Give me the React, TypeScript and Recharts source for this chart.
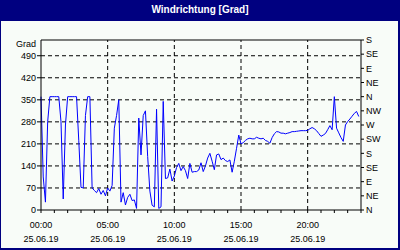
import { Line, LineChart, ReferenceLine, XAxis, YAxis } from "recharts";

// wind direction in degrees, one reading every 10 minutes from 00:00
const direction = [
  360, 105, 25, 280, 360, 360, 360, 360, 360, 280, 35, 270, 360, 360, 360, 360,
  360, 220, 72, 70, 300, 360, 360, 70, 62, 55, 68, 50, 62, 45, 70, 60,
  78, 260, 300, 350, 25, 55, 16, 40, 50, 30, 32, 5, 292, 175, 300, 315,
  170, 60, 15, 10, 320, 5, 10, 345, 100, 102, 130, 92, 108, 135, 148, 125,
  138, 125, 100, 148, 120, 122, 122, 127, 150, 122, 140, 165, 180, 155, 128, 175,
  178, 160, 165, 157, 154, 159, 120, 155, 196, 238, 210, 214, 221, 226, 228, 226,
  226, 231, 228, 226, 228, 221, 218, 212, 230, 242, 249, 248, 244, 244, 242, 244,
  246, 249, 249, 250, 251, 252, 252, 252, 253, 258, 262, 258, 252, 243, 234, 238,
  243, 255, 268, 255, 360, 260, 245, 230, 218, 270, 281, 289, 298, 307, 313, 297,
];

const hourTicks = Array.from({ length: 25 }, (_, i) => i);
const labelHours = [0, 5, 10, 15, 20];
const gridHours = [5, 10, 15, 20];
const dateLabel = "25.06.19";
const gradTicks = [0, 70, 140, 210, 280, 350, 420, 490];
const compassTicks = [0, 45, 90, 135, 180, 225, 270, 315, 360, 405, 450, 495, 540];
const compassNames = ["N", "NE", "E", "SE", "S", "SW", "W", "NW"];

const data = direction.map((v, i) => ({ t: i / 6, v }));

const FONT = "'Liberation Sans', Arial, sans-serif";
const tickFont = { fontSize: 9, fill: "#000", fontFamily: FONT };

function TimeTick({ x, y, payload }: any) {
  const h = payload.value;
  if (!labelHours.includes(h)) return <g />;
  const hh = String(h).padStart(2, "0") + ":00";
  return (
    <g>
      <text x={x} y={y + 12.5} textAnchor="middle" {...tickFont}>
        {hh}
      </text>
      <text x={x} y={y + 26.5} textAnchor="middle" {...tickFont}>
        {dateLabel}
      </text>
    </g>
  );
}

export default function App() {
  return (
    <div style={{ position: "fixed", left: 0, top: 0, width: 400, height: 250, background: "#000080" }}>
      <div
        style={{
          position: "absolute",
          left: 0,
          top: 0,
          width: 400,
          height: 21,
          lineHeight: "20px",
          textAlign: "center",
          color: "#fff",
          fontFamily: FONT,
          fontWeight: "bold",
          fontSize: 10,
        }}
      >
        Windrichtung [Grad]
      </div>
      <div style={{ position: "absolute", left: 1, top: 21, width: 397, height: 227, background: "#F8FCF8" }} />
      <div
        style={{
          position: "absolute",
          left: 0,
          top: 39,
          width: 36,
          textAlign: "right",
          fontFamily: FONT,
          fontSize: 9,
          color: "#000",
        }}
      >
        Grad
      </div>
      <div style={{ position: "absolute", left: 0, top: 0 }}>
        <LineChart width={400} height={250} data={data} margin={{ top: 40, right: 0, bottom: 0, left: 0 }}>
          <XAxis
            dataKey="t"
            type="number"
            domain={[0, 24]}
            ticks={hourTicks}
            interval={0}
            height={40}
            tickSize={3}
            tickMargin={2}
            stroke="#000"
            tick={<TimeTick />}
          />
          <YAxis
            yAxisId="left"
            domain={[0, 540]}
            ticks={gradTicks}
            interval={0}
            width={41}
            tickSize={4}
            tickMargin={1}
            stroke="#000"
            tick={tickFont}
          />
          <YAxis
            yAxisId="right"
            orientation="right"
            domain={[0, 540]}
            ticks={compassTicks}
            interval={0}
            width={39}
            tickSize={3}
            tickMargin={2}
            stroke="#000"
            tick={tickFont}
            tickFormatter={(v: number) => compassNames[(v / 45) % 8]}
          />
          {gradTicks.slice(1).map((g) => (
            <ReferenceLine key={"h" + g} yAxisId="left" y={g} stroke="#000" strokeDasharray="4 3" />
          ))}
          {gridHours.map((h) => (
            <ReferenceLine key={"v" + h} yAxisId="left" x={h} stroke="#000" strokeDasharray="4 3" />
          ))}
          <ReferenceLine yAxisId="right" y={540} stroke="#000" />
          <Line
            yAxisId="left"
            dataKey="v"
            type="linear"
            stroke="#0000ff"
            strokeWidth={1}
            dot={false}
            isAnimationActive={false}
          />
          <Line
            yAxisId="right"
            dataKey="v"
            type="linear"
            stroke="none"
            dot={false}
            activeDot={false}
            legendType="none"
            isAnimationActive={false}
          />
        </LineChart>
      </div>
    </div>
  );
}
